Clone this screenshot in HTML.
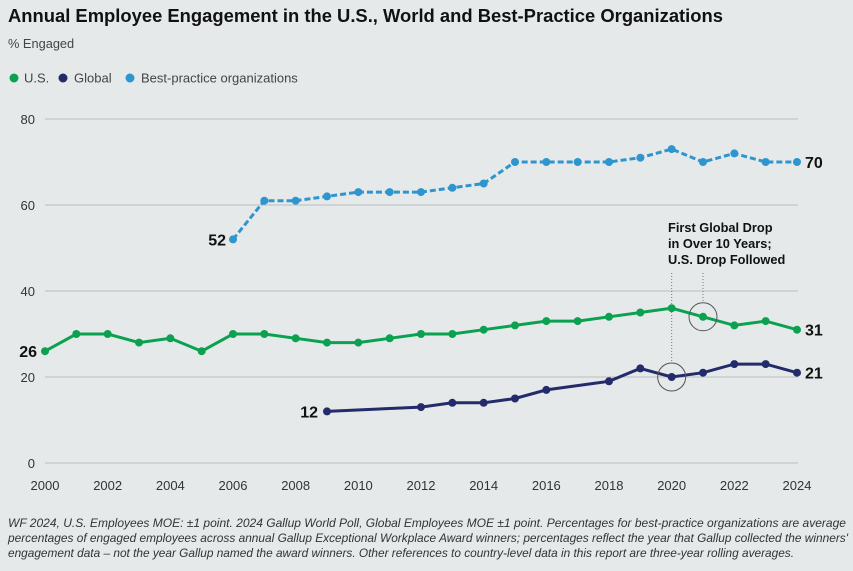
<!DOCTYPE html>
<html><head><meta charset="utf-8"><style>
html,body{margin:0;padding:0;background:#e6e9ea;}
svg{display:block;font-family:"Liberation Sans",sans-serif;}
</style></head><body>
<svg id="s" width="853" height="571" viewBox="0 0 853 571">
<rect width="853" height="571" fill="#e6e9ea"/>
<text x="8" y="22" font-size="18.4" font-weight="bold" fill="#111">Annual Employee Engagement in the U.S., World and Best-Practice Organizations</text>
<text x="8" y="48" font-size="12.8" fill="#444">% Engaged</text>
<circle cx="14" cy="78" r="4.5" fill="#0aa150"/><text x="24" y="82.5" font-size="13" fill="#444">U.S.</text>
<circle cx="63" cy="78" r="4.5" fill="#232b6b"/><text x="74" y="82.5" font-size="13" fill="#444">Global</text>
<circle cx="130" cy="78" r="4.5" fill="#2e95cf"/><text x="141" y="82.5" font-size="13" fill="#444">Best-practice organizations</text>
<g id="g"></g>
<text x="8" y="527" font-size="11.9" font-style="italic" fill="#333" textLength="838" lengthAdjust="spacingAndGlyphs">WF 2024, U.S. Employees MOE: ±1 point. 2024 Gallup World Poll, Global Employees MOE ±1 point. Percentages for best-practice organizations are average</text>
<text x="8" y="542" font-size="11.9" font-style="italic" fill="#333" textLength="840" lengthAdjust="spacingAndGlyphs">percentages of engaged employees across annual Gallup Exceptional Workplace Award winners; percentages reflect the year that Gallup collected the winners'</text>
<text x="8" y="557" font-size="11.9" font-style="italic" fill="#333" textLength="786" lengthAdjust="spacingAndGlyphs">engagement data – not the year Gallup named the award winners. Other references to country-level data in this report are three-year rolling averages.</text>
</svg>
<script>
var g=document.getElementById('g'),h='';
function X(y){return 45+752/24*(y-2000);}function Y(v){return 463-4.3*v;}
[0,20,40,60,80].forEach(function(v){h+='<line x1="45" x2="798" y1="'+Y(v)+'" y2="'+Y(v)+'" stroke="#bbbdbf" stroke-width="1"/>';h+='<text x="35" y="'+(Y(v)+5)+'" font-size="13" fill="#333" text-anchor="end">'+v+'</text>';});
for(var y=2000;y<=2024;y+=2)h+='<text x="'+X(y)+'" y="490" font-size="13" fill="#333" text-anchor="middle">'+y+'</text>';
var us=[26,30,30,28,29,26,30,30,29,28,28,29,30,30,31,32,33,33,34,35,36,34,32,33,31];
var gl=[[2009,12],[2012,13],[2013,14],[2014,14],[2015,15],[2016,17],[2018,19],[2019,22],[2020,20],[2021,21],[2022,23],[2023,23],[2024,21]];
var bp=[52,61,61,62,63,63,63,64,65,70,70,70,70,71,73,70,72,70,70];
function ser(pts,c,dash){var p=pts.map(function(q){return X(q[0]).toFixed(1)+','+Y(q[1]).toFixed(1)}).join(' ');
h+='<polyline points="'+p+'" fill="none" stroke="'+c+'" stroke-width="3"'+(dash?' stroke-dasharray="6,3"':'')+'/>';
pts.forEach(function(q){h+='<circle cx="'+X(q[0])+'" cy="'+Y(q[1])+'" r="4" fill="'+c+'"/>';});}
h+='<line x1="'+X(2020)+'" x2="'+X(2020)+'" y1="273" y2="363" stroke="#777" stroke-dasharray="1,2"/>';
h+='<line x1="'+X(2021)+'" x2="'+X(2021)+'" y1="273" y2="303" stroke="#777" stroke-dasharray="1,2"/>';
ser(bp.map(function(v,i){return[2006+i,v]}),'#2e95cf',true);
ser(us.map(function(v,i){return[2000+i,v]}),'#0aa150');
ser(gl,'#232b6b');
h+='<circle cx="'+X(2020)+'" cy="'+Y(20)+'" r="14" fill="none" stroke="#555"/>';
h+='<circle cx="'+X(2021)+'" cy="'+Y(34)+'" r="14" fill="none" stroke="#555"/>';
var L='font-size="16" font-weight="bold" fill="#111"';
h+='<text x="805" y="'+(Y(70)+6)+'" '+L+'>70</text><text x="805" y="'+(Y(31)+6)+'" '+L+'>31</text><text x="805" y="'+(Y(21)+6)+'" '+L+'>21</text>';
h+='<text x="37" y="'+(Y(26)+6)+'" '+L+' text-anchor="end">26</text><text x="226" y="'+(Y(52)+6)+'" '+L+' text-anchor="end">52</text><text x="318" y="'+(Y(12)+6)+'" '+L+' text-anchor="end">12</text>';
var A='font-size="12.8" font-weight="bold" fill="#111"';
h+='<text x="668" y="232" '+A+'>First Global Drop</text><text x="668" y="248" '+A+'>in Over 10 Years;</text><text x="668" y="264" '+A+'>U.S. Drop Followed</text>';
g.innerHTML=h;
</script>
</body></html>
